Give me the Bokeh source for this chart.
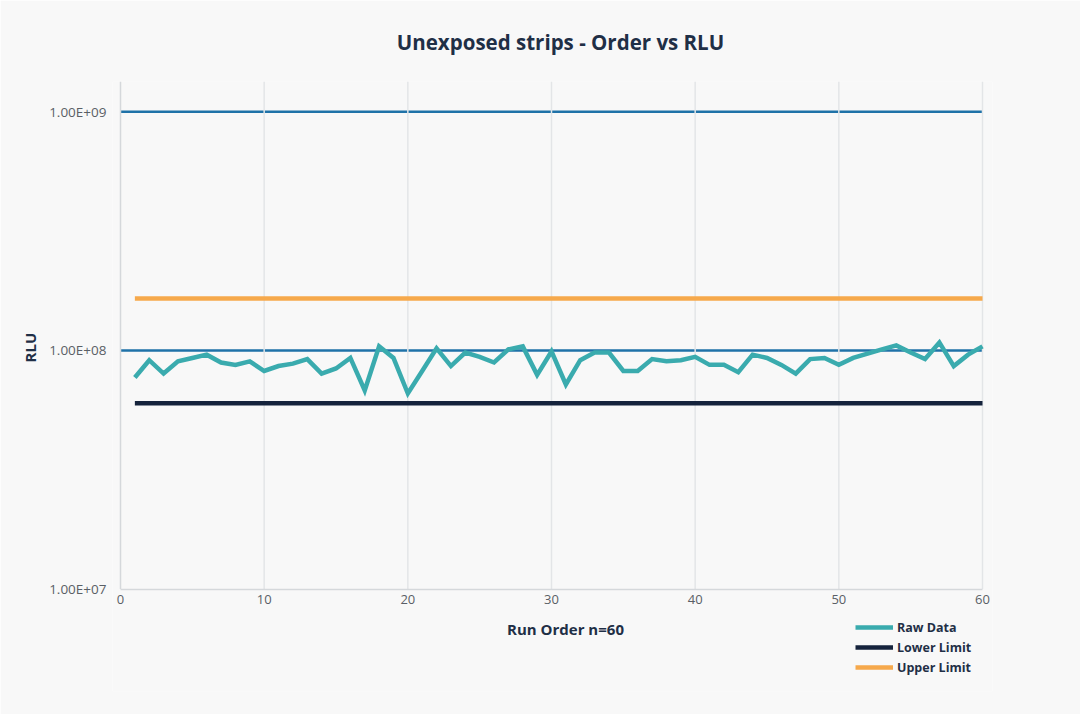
import numpy as np
from bokeh.plotting import figure
from bokeh.models import (Range1d, FixedTicker, CustomJSTickFormatter,
                          Legend, LegendItem, Label)
from bokeh.embed import file_html
from bokeh.resources import INLINE

# ---- data ----
run_order = list(range(1, 61))
raw_rlu = [7.7e7, 9.1e7, 8.0e7, 9.0e7, 9.3e7, 9.6e7, 8.9e7, 8.7e7, 9.0e7, 8.2e7,
           8.6e7, 8.8e7, 9.2e7, 8.0e7, 8.4e7, 9.3e7, 6.8e7, 1.04e8, 9.3e7, 6.6e7,
           8.2e7, 1.02e8, 8.6e7, 9.8e7, 9.4e7, 8.9e7, 1.01e8, 1.04e8, 7.9e7, 9.9e7,
           7.2e7, 9.1e7, 9.8e7, 9.8e7, 8.2e7, 8.2e7, 9.2e7, 9.0e7, 9.1e7, 9.4e7,
           8.7e7, 8.7e7, 8.1e7, 9.6e7, 9.3e7, 8.7e7, 8.0e7, 9.2e7, 9.3e7, 8.7e7,
           9.3e7, 9.7e7, 1.01e8, 1.05e8, 9.8e7, 9.2e7, 1.08e8, 8.6e7, 9.6e7, 1.04e8]
lower_limit = [6.0e7] * 60
upper_limit = [1.65e8] * 60

x_ticks = [0, 10, 20, 30, 40, 50, 60]
y_ticks = [1e7, 1e8, 1e9]
y_grid_ticks = [1e8, 1e9]
y_axis_min = 1e7
y_axis_max = 1.34e9

title_text = "Unexposed strips -  Order vs RLU"
x_title = "Run Order n=60"
y_title = "RLU"
series_names = ["Raw Data", "Lower Limit", "Upper Limit"]

# ---- styling ----
BG = "#f8f8f8"
FONT = "Open Sans"
NAVY = "#1f2f46"
NB = "\u00a0"

# frame is a little wider than the axis extent and reaches below the x axis,
# so that edge tick labels, the legend and the x title are not clipped
p = figure(frame_width=880, frame_height=610,
           output_backend="svg", toolbar_location=None,
           y_axis_type="log",
           x_range=Range1d(-0.5568, 60.696), y_range=Range1d(3.72e6, y_axis_max),
           min_border_left=112, min_border_right=88,
           min_border_top=80, min_border_bottom=24)
p.background_fill_color = BG
p.border_fill_color = BG
p.outline_line_color = None

n_g = len(y_grid_ticks)
# horizontal (blue) grid lines at the major y ticks
p.segment(x0=[x_ticks[0]] * n_g, y0=y_grid_ticks, x1=[x_ticks[-1]] * n_g,
          y1=y_grid_ticks, line_color="#1f72a8", line_width=2.5)
# vertical grid lines at the x ticks
n_x = len(x_ticks) - 1
p.segment(x0=x_ticks[1:], y0=[y_axis_min] * n_x, x1=x_ticks[1:],
          y1=[y_axis_max] * n_x, line_color="#e3e5e7", line_width=1.5)
# y axis rule at x = 0
p.segment(x0=[x_ticks[0]], y0=[y_axis_min], x1=[x_ticks[0]], y1=[y_axis_max],
          line_color="#d5d8db", line_width=1.5)

r_raw = p.line(run_order, raw_rlu, line_color="#3aabae", line_width=4.5,
               line_join="miter")
r_low = p.line(run_order, lower_limit, line_color="#15233c", line_width=4.5)
r_up = p.line(run_order, upper_limit, line_color="#f6a94c", line_width=4.5)

# title
p.title.text = NB * 4 + title_text
p.title.align = "center"
p.title.standoff = 51
p.title.text_font = FONT
p.title.text_font_size = "20.5px"
p.title.text_font_style = "bold"
p.title.text_color = NAVY

# axes
p.xaxis.ticker = FixedTicker(ticks=x_ticks)
p.xaxis.fixed_location = y_axis_min
p.xaxis.bounds = (x_ticks[0], x_ticks[-1])
p.yaxis.ticker = FixedTicker(ticks=y_ticks)
p.yaxis.bounds = (y_axis_min, y_axis_max)
p.yaxis.formatter = CustomJSTickFormatter(code="""
    const s = tick.toExponential(2).toUpperCase();
    return s.replace(/E([+-])(\\d)$/, 'E$10$2');
""")
for ax in (p.xaxis[0], p.yaxis[0]):
    ax.axis_line_color = "#d5d8db"
    ax.axis_line_width = 1.5
    ax.major_tick_line_color = None
    ax.minor_tick_line_color = None
    ax.major_label_text_font = FONT
    ax.major_label_text_font_size = "13px"
    ax.major_label_text_color = "#5a5f66"
    ax.axis_label_text_font = FONT
    ax.axis_label_text_font_size = "15px"
    ax.axis_label_text_font_style = "bold"
    ax.axis_label_text_color = NAVY
p.yaxis.axis_line_color = None
p.yaxis.major_label_text_font_size = "13.5px"
p.xaxis.major_label_standoff = 0
p.yaxis.major_label_standoff = 0
p.yaxis.axis_label = NB * 20 + y_title
p.yaxis.axis_label_standoff = 6

# grids (drawn as segments above)
p.xgrid.visible = False
p.ygrid.visible = False

# x axis title (inside the extended frame, below the axis)
p.add_layout(Label(x=453, y=63, x_units="screen", y_units="screen",
                   text=x_title, text_font=FONT, text_font_size="15px",
                   text_font_style="bold", text_color=NAVY,
                   text_align="center", text_baseline="middle"))

legend = Legend(items=[LegendItem(label=series_names[0], renderers=[r_raw]),
                       LegendItem(label=series_names[1], renderers=[r_low]),
                       LegendItem(label=series_names[2], renderers=[r_up])],
                location=(743, 14))
legend.background_fill_alpha = 0
legend.border_line_color = None
legend.padding = 0
legend.margin = 0
legend.spacing = 0
legend.glyph_width = 38
legend.glyph_height = 20
legend.label_height = 20
legend.label_standoff = 4
legend.label_text_font = FONT
legend.label_text_font_size = "12.5px"
legend.label_text_font_style = "bold"
legend.label_text_color = NAVY
p.add_layout(legend)

html = file_html(p, INLINE)
html = html.replace("<body>", '<body style="background:%s">' % BG, 1)
open("out.html", "w").write(html)
